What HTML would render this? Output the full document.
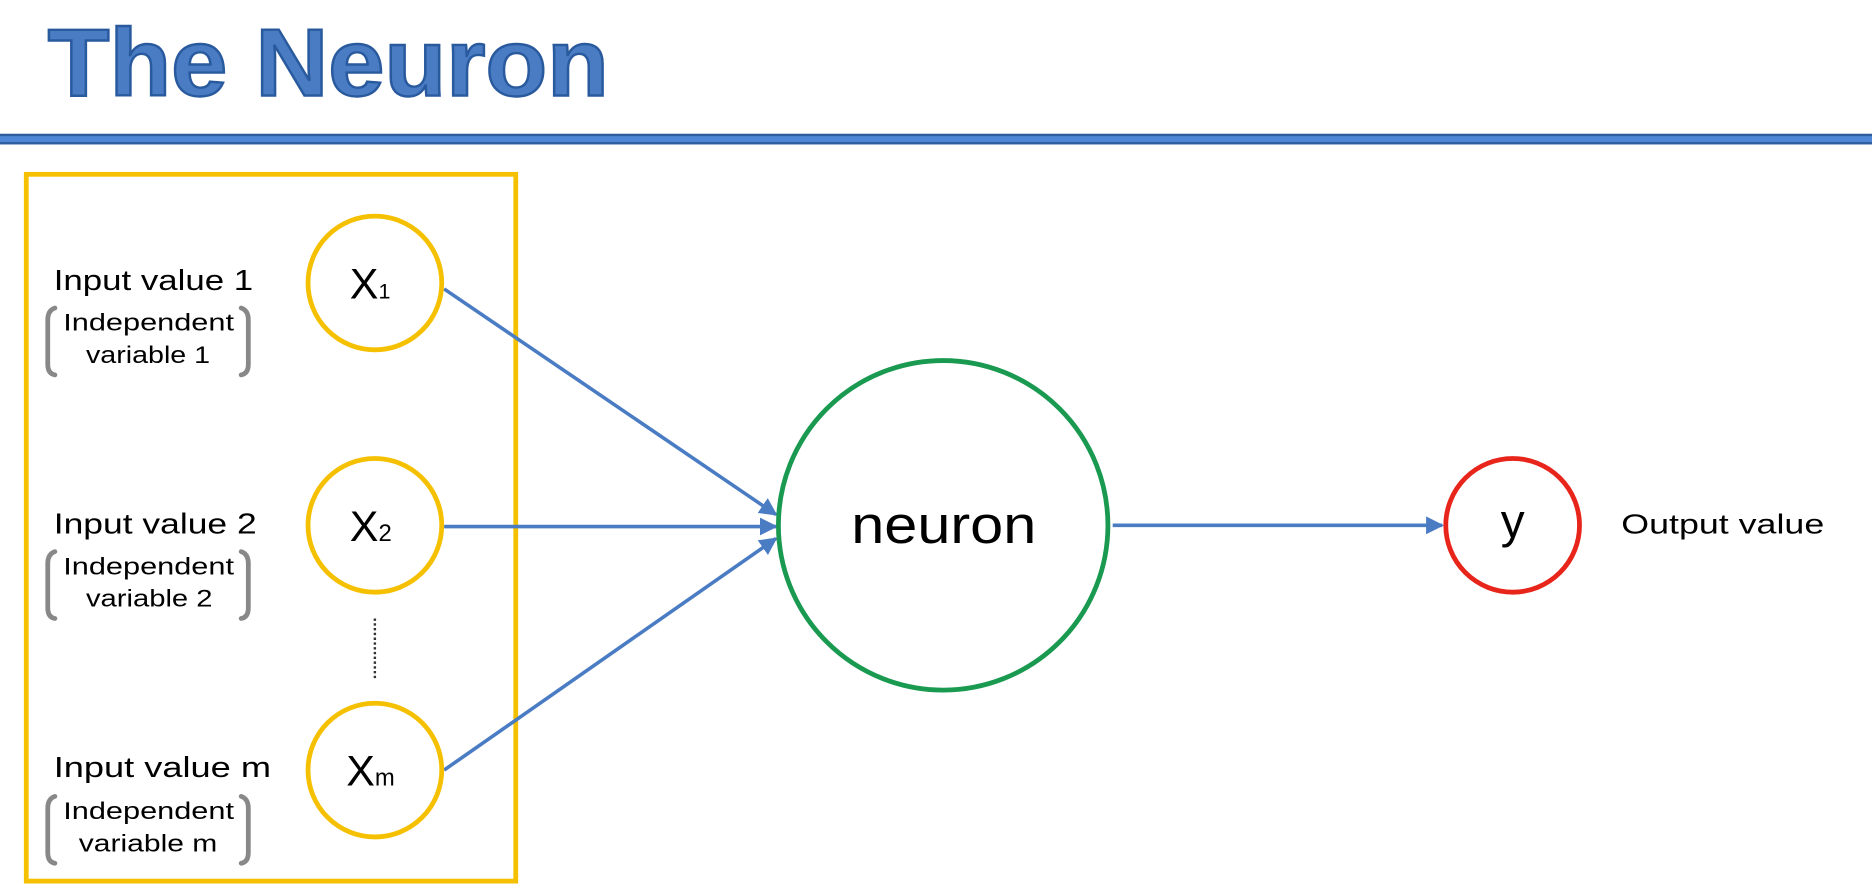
<!DOCTYPE html>
<html><head><meta charset="utf-8"><style>
html,body{margin:0;padding:0;background:#fff;width:1872px;height:889px;overflow:hidden}
svg{display:block}
text{font-family:"Liberation Sans",sans-serif}
</style></head><body>
<svg width="1872" height="889" viewBox="0 0 1568 744.6" preserveAspectRatio="none" xmlns="http://www.w3.org/2000/svg">
<defs>
<marker id="ah" viewBox="0 0 10 10" refX="9" refY="5" markerWidth="5" markerHeight="5" orient="auto" markerUnits="strokeWidth">
<path d="M0,0 L10,5 L0,10 z" fill="#4a7cc4"/></marker>
</defs>
<text x="40" y="80" font-size="80" font-weight="bold" fill="#4a7cc4" stroke="#2a5a9e" stroke-width="2" textLength="470" lengthAdjust="spacingAndGlyphs">The Neuron</text>
<rect x="0" y="112" width="1568" height="9" fill="#2f5e9e"/>
<rect x="0" y="114" width="1568" height="5" fill="#4f86d6"/>
<rect x="22" y="146" width="410" height="592" fill="none" stroke="#f5c000" stroke-width="4"/>
<g stroke="#4a7cc4" stroke-width="3" fill="none" marker-end="url(#ah)">
<line x1="372" y1="242" x2="650" y2="431"/>
<line x1="372" y1="441" x2="650" y2="441"/>
<line x1="372" y1="645" x2="650" y2="451"/>
<line x1="932" y1="440" x2="1208" y2="440"/>
</g>
<g fill="#fff" stroke="#f5c000" stroke-width="4">
<circle cx="314" cy="237" r="56"/><circle cx="314" cy="440" r="56"/><circle cx="314" cy="645" r="56"/>
</g>
<circle cx="790" cy="440" r="138" fill="#fff" stroke="#1a9a50" stroke-width="4"/>
<circle cx="1267" cy="440" r="56" fill="#fff" stroke="#e8251b" stroke-width="4"/>
<line x1="314" y1="518" x2="314" y2="570" stroke="#333" stroke-width="2" stroke-dasharray="2,2"/>
<g font-size="36" fill="#000">
<text x="293" y="250">X<tspan font-size="18">1</tspan></text>
<text x="293" y="453">X<tspan font-size="20">2</tspan></text>
<text x="290" y="658">X<tspan font-size="20">m</tspan></text>
</g>
<text x="713" y="455" font-size="44" fill="#000" textLength="155" lengthAdjust="spacingAndGlyphs">neuron</text>
<text x="1267" y="450" font-size="40" text-anchor="middle" fill="#000">y</text>
<text x="1358" y="447" font-size="23" fill="#000" textLength="170" lengthAdjust="spacingAndGlyphs">Output value</text>
<g font-size="24" fill="#000">
<text x="45" y="243" textLength="167" lengthAdjust="spacingAndGlyphs">Input value 1</text>
<text x="45" y="447" textLength="170" lengthAdjust="spacingAndGlyphs">Input value 2</text>
<text x="45" y="651" textLength="182" lengthAdjust="spacingAndGlyphs">Input value m</text>
</g>
<g font-size="20" fill="#000">
<text x="53" y="277" textLength="143" lengthAdjust="spacingAndGlyphs">Independent</text><text x="72" y="304" textLength="104" lengthAdjust="spacingAndGlyphs">variable 1</text>
<text x="53" y="481" textLength="143" lengthAdjust="spacingAndGlyphs">Independent</text><text x="72" y="508" textLength="106" lengthAdjust="spacingAndGlyphs">variable 2</text>
<text x="53" y="686" textLength="143" lengthAdjust="spacingAndGlyphs">Independent</text><text x="66" y="713" textLength="116" lengthAdjust="spacingAndGlyphs">variable m</text>
</g>
<g fill="none" stroke="#888" stroke-width="4" stroke-linecap="round">
<path d="M46,258 Q40,260 40,268 L40,305 Q40,313 46,314"/>
<path d="M202,258 Q208,260 208,268 L208,305 Q208,313 202,314"/>
<path d="M46,462 Q40,464 40,472 L40,509 Q40,517 46,518"/>
<path d="M202,462 Q208,464 208,472 L208,509 Q208,517 202,518"/>
<path d="M46,667 Q40,669 40,677 L40,714 Q40,722 46,723"/>
<path d="M202,667 Q208,669 208,677 L208,714 Q208,722 202,723"/>
</g>
</svg>
</body></html>
